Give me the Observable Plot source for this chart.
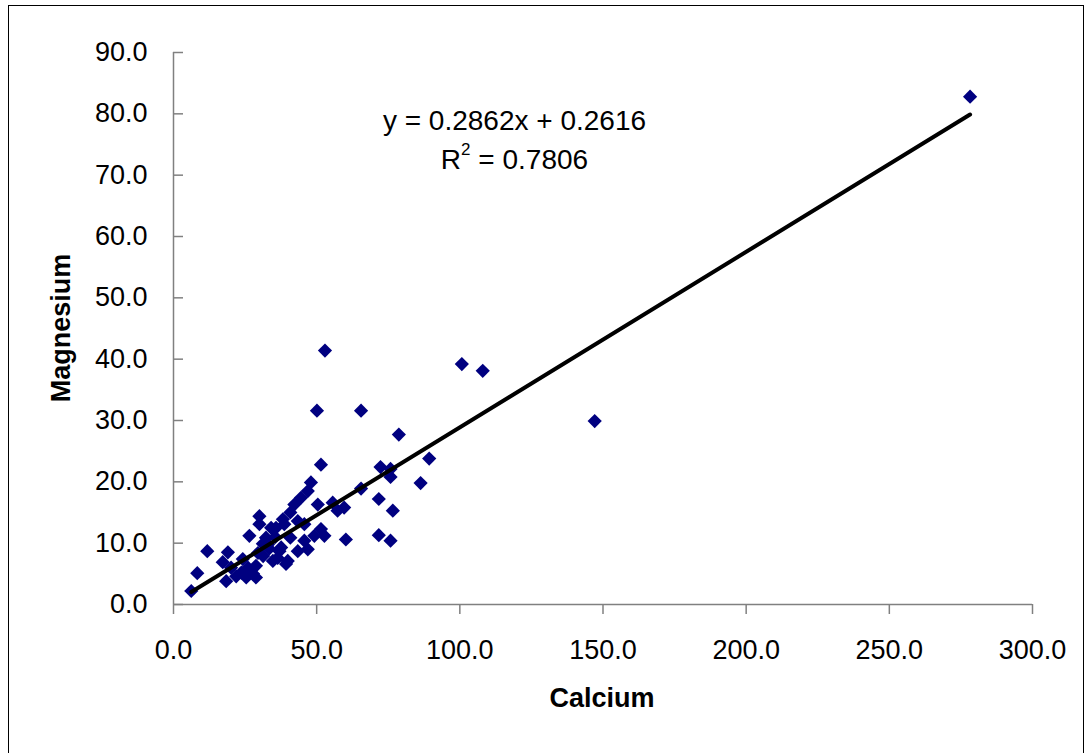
<!DOCTYPE html>
<html>
<head>
<meta charset="utf-8">
<script src="https://cdn.jsdelivr.net/npm/d3@7"></script>
<script src="https://cdn.jsdelivr.net/npm/@observablehq/plot@0.6"></script>
<style>
  html, body { margin: 0; padding: 0; background: #fff; overflow: hidden; }
  body { width: 1088px; height: 753px; position: relative; font-family: "Liberation Sans", Arial, sans-serif; }
  #frame { position: absolute; left: 8px; top: 5px; width: 1076px; height: 800px; border: 1.5px solid #000; box-sizing: border-box; }
  #chart { position: absolute; left: 0; top: 0; }
  .txt { position: absolute; color: #000; white-space: nowrap; }
  #eq1 { left: 0; width: 1029px; text-align: center; top: 105px; font-size: 28px; }
  #eq2 { left: 0; width: 1029px; text-align: center; top: 144px; font-size: 28px; }
  #eq2 sup { font-size: 17px; position: relative; top: -4px; vertical-align: top; }
  #xtitle { left: 0; width: 1204px; text-align: center; top: 683px; font-size: 27px; font-weight: bold; }
  #ytitle { left: 61px; top: 328px; font-size: 27px; font-weight: bold; transform: translate(-50%, -50%) rotate(-90deg); }
</style>
</head>
<body>
<div id="frame"></div>
<div id="chart"></div>
<div class="txt" id="eq1">y = 0.2862x + 0.2616</div>
<div class="txt" id="eq2">R<sup>2</sup> = 0.7806</div>
<div class="txt" id="xtitle">Calcium</div>
<div class="txt" id="ytitle">Magnesium</div>
<script>
// Calcium (x) and Magnesium (y) values
const calcium = [
  6.2, 8.3, 11.8, 17.2, 18.4, 19.0, 20.1, 21.9, 24.2, 25.4,
  26.0, 26.5, 28.8, 30.0, 30.0, 31.2, 32.3, 34.7, 35.8, 38.2,
  40.8, 40.8, 37.0, 39.3, 48.0, 46.9, 44.5, 42.2, 50.4, 55.6,
  57.3, 59.6, 65.5, 72.3, 75.8, 75.8, 71.7, 76.6, 60.2, 71.7,
  75.8, 51.5, 52.7, 49.2, 45.7, 45.7, 46.9, 43.4, 38.7, 37.6,
  43.4, 36.4, 39.9, 34.1, 51.5, 50.1, 52.9, 65.5, 78.7, 89.3,
  86.3, 100.7, 108.0, 147.1, 278.2,
  23.7, 28.8, 31.3, 33.4, 27.8, 29.5, 33.0, 35.5
];
const magnesium = [
  2.2, 5.1, 8.7, 6.9, 3.8, 8.5, 6.0, 4.6, 7.4, 4.4,
  6.0, 11.2, 4.4, 14.4, 13.1, 9.9, 10.9, 7.1, 12.5, 13.9,
  15.0, 10.9, 8.7, 6.6, 19.9, 18.5, 17.4, 16.3, 16.3, 16.6,
  15.3, 15.8, 18.9, 22.4, 22.1, 20.8, 17.2, 15.3, 10.6, 11.3,
  10.4, 12.3, 11.2, 11.2, 13.1, 10.4, 9.0, 13.6, 13.1, 9.3,
  8.7, 7.6, 7.1, 12.5, 22.8, 31.6, 41.4, 31.6, 27.7, 23.8,
  19.8, 39.2, 38.1, 29.9, 82.8,
  5.2, 6.3, 7.9, 9.1, 5.0, 8.4, 9.8, 11.0
];
// Trendline from the reference: y = 0.2862x + 0.2616
const slope = 0.2862;
const intercept = 0.2616;
const xTicks = [0, 50, 100, 150, 200, 250, 300];
const yTicks = [0, 10, 20, 30, 40, 50, 60, 70, 80, 90];

const points = calcium.map((c, i) => ({calcium: c, magnesium: magnesium[i]}));
const xMin = d3.min(calcium), xMax = d3.max(calcium);
const trend = [xMin, xMax].map(x => ({calcium: x, magnesium: slope * x + intercept}));
const fmt = d => d.toFixed(1);
const axisColor = "#808080";

const chart = Plot.plot({
  width: 1088,
  height: 753,
  marginLeft: 173,
  marginRight: 56,
  marginTop: 52,
  marginBottom: 149,
  style: {fontFamily: "'Liberation Sans', Arial, sans-serif", fontSize: "27px", background: "transparent", color: "#000"},
  x: {domain: [0, 300]},
  y: {domain: [0, 90]},
  marks: [
    Plot.axisX({ticks: xTicks, tickFormat: fmt, tickSize: 10, tickPadding: 25, stroke: axisColor, strokeWidth: 1.5, label: null, fill: "#000"}),
    Plot.axisY({ticks: yTicks, tickSize: -10, text: null, stroke: axisColor, strokeWidth: 1.5, label: null}),
    Plot.axisY({ticks: yTicks, tickFormat: fmt, tickSize: 0, tickPadding: 26, label: null, fill: "#000"}),
    Plot.ruleX([0], {stroke: axisColor, strokeWidth: 1.5}),
    Plot.ruleY([0], {stroke: axisColor, strokeWidth: 1.5}),
    Plot.dot(points, {x: "calcium", y: "magnesium", symbol: "diamond2", r: 6.4, fill: "#000080", stroke: "none"}),
    Plot.line(trend, {x: "calcium", y: "magnesium", stroke: "#000", strokeWidth: 4})
  ]
});
document.getElementById("chart").appendChild(chart);
</script>
</body>
</html>
